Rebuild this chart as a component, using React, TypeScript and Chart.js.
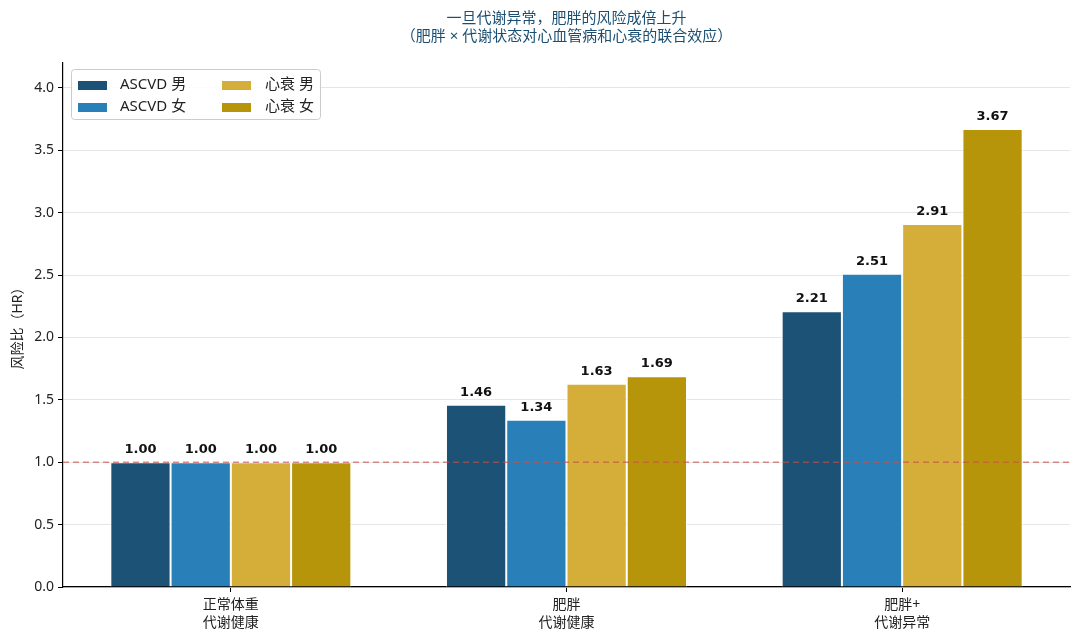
import { useEffect, useRef } from "react";
import { Chart, registerables, Plugin } from "chart.js";

Chart.register(...registerables);

const categories = [
  ["正常体重", "代谢健康"],
  ["肥胖", "代谢健康"],
  ["肥胖+", "代谢异常"],
];
const seriesNames = ["ASCVD 男", "ASCVD 女", "心衰 男", "心衰 女"];
const ascvdMale = [1.0, 1.46, 2.21];
const ascvdFemale = [1.0, 1.34, 2.51];
const hfMale = [1.0, 1.63, 2.91];
const hfFemale = [1.0, 1.69, 3.67];
const seriesColors = ["#1b5276", "#2980b9", "#d4ae38", "#b7950b"];
const titleLines = [
  "一旦代谢异常，肥胖的风险成倍上升",
  "（肥胖 × 代谢状态对心血管病和心衰的联合效应）",
];
const yTitle = "风险比（HR）";
const referenceHR = 1.0;
const yMax = 4.2;
const yStep = 0.5;

const FONT = "'Noto Sans', 'Noto Sans CJK SC', sans-serif";

// title, reference line, value labels and the two-column legend
const extras: Plugin<"bar"> = {
  id: "extras",
  afterDatasetsDraw(chart) {
    const { ctx, chartArea } = chart;
    const y = chart.scales.y;

    // dashed line at HR = 1
    const py = y.getPixelForValue(referenceHR);
    ctx.save();
    ctx.strokeStyle = "rgba(200, 80, 70, 0.65)";
    ctx.lineWidth = 1.5;
    ctx.setLineDash([6, 4]);
    ctx.beginPath();
    ctx.moveTo(chartArea.left, py);
    ctx.lineTo(chartArea.right, py);
    ctx.stroke();
    ctx.restore();

    // value labels
    ctx.save();
    ctx.font = "bold 13px 'DejaVu Sans', sans-serif";
    ctx.fillStyle = "#111";
    ctx.textAlign = "center";
    ctx.textBaseline = "bottom";
    chart.data.datasets.forEach((ds, i) => {
      chart.getDatasetMeta(i).data.forEach((bar: any, j) => {
        const v = ds.data[j] as number;
        ctx.fillText(v.toFixed(2), bar.x, bar.y - 6);
      });
    });
    ctx.restore();
  },
  afterDraw(chart) {
    const { ctx, chartArea } = chart;
    const cx = (chartArea.left + chartArea.right) / 2;

    ctx.save();
    ctx.font = `15px ${FONT}`;
    ctx.fillStyle = "#1b4f72";
    ctx.textAlign = "center";
    ctx.textBaseline = "middle";
    ctx.fillText(titleLines[0], cx, 19);
    ctx.fillText(titleLines[1], cx, 37);
    ctx.restore();

    // legend
    const lx = chartArea.left + 8;
    const ly = chartArea.top + 6;
    ctx.save();
    ctx.fillStyle = "rgba(255,255,255,0.85)";
    ctx.strokeStyle = "#cccccc";
    ctx.lineWidth = 1;
    ctx.beginPath();
    ctx.roundRect(lx + 0.5, ly + 0.5, 249, 50, 3);
    ctx.fill();
    ctx.stroke();
    ctx.font = `15px ${FONT}`;
    ctx.textBaseline = "middle";
    ctx.textAlign = "left";
    seriesNames.forEach((name, i) => {
      const col = Math.floor(i / 2);
      const row = i % 2;
      const sx = lx + 7 + col * 144;
      const sy = ly + 16 + row * 22;
      ctx.fillStyle = seriesColors[i];
      ctx.fillRect(sx, sy - 4, 29, 9);
      ctx.fillStyle = "#222";
      ctx.fillText(name, sx + (col === 0 ? 42 : 43), sy);
    });
    ctx.restore();
  },
};

export default function App() {
  const canvasRef = useRef<HTMLCanvasElement>(null);

  useEffect(() => {
    document.body.style.margin = "0";
    if (!canvasRef.current) return;
    const seriesValues = [ascvdMale, ascvdFemale, hfMale, hfFemale];
    const chart = new Chart(canvasRef.current, {
      type: "bar",
      data: {
        labels: categories,
        datasets: seriesNames.map((name, i) => ({
          label: name,
          data: seriesValues[i],
          backgroundColor: seriesColors[i],
          borderColor: "#ffffff",
          borderWidth: 1,
          categoryPercentage: 0.718,
          barPercentage: 1,
        })),
      },
      options: {
        responsive: false,
        animation: false,
        devicePixelRatio: 1,
        layout: { padding: { top: 63, right: 10, left: 0, bottom: 0 } },
        plugins: {
          legend: { display: false },
          title: { display: false },
          tooltip: { enabled: false },
        },
        scales: {
          x: {
            grid: {
              offset: false,
              drawOnChartArea: false,
              drawTicks: true,
              tickLength: 5,
              tickColor: "#000",
            },
            border: { color: "#000", width: 1.2 },
            ticks: {
              color: "#222",
              font: { family: FONT, size: 14, lineHeight: 1.3 },
              padding: 4,
              maxRotation: 0,
            },
            afterFit(scale) {
              scale.height = 53;
            },
          },
          y: {
            min: 0,
            max: yMax,
            grid: {
              color: "#e6e6e6",
              tickColor: "#000",
              tickLength: 5,
            },
            border: { color: "#000", width: 1.2 },
            ticks: {
              stepSize: yStep,
              includeBounds: false,
              color: "#222",
              font: { family: FONT, size: 14 },
              padding: 4,
              callback: (v) => Number(v).toFixed(1),
            },
            title: {
              display: true,
              text: yTitle,
              color: "#222",
              font: { family: FONT, size: 14 },
              padding: { top: 10, bottom: 2 },
            },
            afterFit(scale) {
              scale.width = 63;
            },
          },
        },
      },
      plugins: [extras],
    });
    return () => chart.destroy();
  }, []);

  return (
    <div style={{ position: "absolute", left: 0, top: 0, width: 1080, height: 640 }}>
      <canvas ref={canvasRef} width={1080} height={640} />
    </div>
  );
}
